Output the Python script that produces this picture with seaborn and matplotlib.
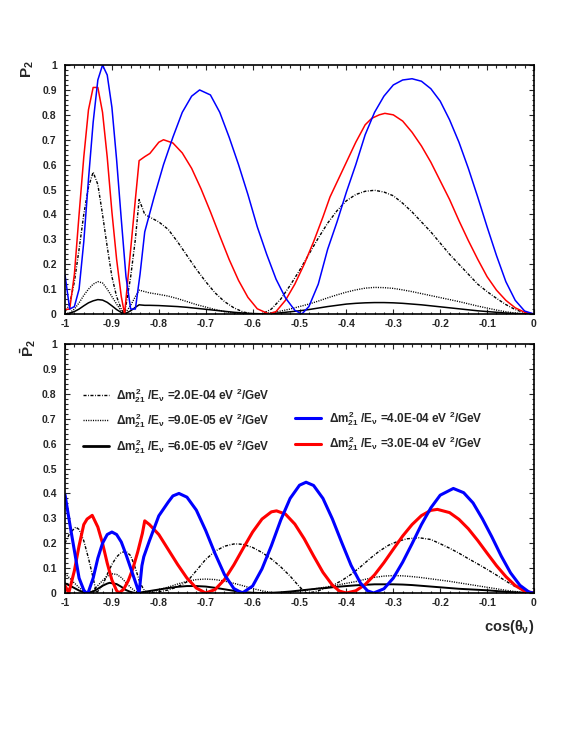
import matplotlib
matplotlib.use("Agg")
import matplotlib.pyplot as plt
import numpy as np
import pandas as pd
import seaborn as sns
from matplotlib.ticker import MultipleLocator, FuncFormatter
from matplotlib.lines import Line2D

# ---------------- data ----------------
# top panel (P2)
TOP_BLUE_X = [-1.0, -0.99, -0.98, -0.97, -0.96, -0.95, -0.94, -0.93, -0.92, -0.91, -0.90, -0.89, -0.88, -0.87, -0.86,
              -0.85, -0.84, -0.83, -0.81, -0.79, -0.77, -0.75, -0.73, -0.713, -0.69, -0.67, -0.65, -0.63, -0.61, -0.59,
              -0.57, -0.55, -0.53, -0.51, -0.495, -0.48, -0.46, -0.44, -0.42, -0.40, -0.38, -0.36, -0.34, -0.32, -0.30,
              -0.28, -0.26, -0.24, -0.22, -0.20, -0.18, -0.16, -0.14, -0.12, -0.10, -0.08, -0.06, -0.04, -0.02, 0.0]
TOP_BLUE_Y = [0.157, 0.02, 0.03, 0.10, 0.29, 0.54, 0.77, 0.94, 1.0, 0.96, 0.83, 0.62, 0.38, 0.15, 0.02,
              0.02, 0.16, 0.33, 0.47, 0.60, 0.71, 0.81, 0.875, 0.90, 0.88, 0.81, 0.71, 0.60, 0.48, 0.35,
              0.24, 0.14, 0.065, 0.015, 0.0, 0.03, 0.12, 0.26, 0.37, 0.49, 0.60, 0.72, 0.81, 0.875, 0.92,
              0.94, 0.945, 0.935, 0.905, 0.855, 0.78, 0.69, 0.585, 0.47, 0.35, 0.235, 0.13, 0.055, 0.012, 0.0]

TOP_RED_X = [-1.0, -0.99, -0.98, -0.97, -0.96, -0.95, -0.94, -0.93, -0.92, -0.91, -0.90, -0.89, -0.88, -0.873,
             -0.86, -0.85, -0.842, -0.83, -0.819, -0.80, -0.79, -0.77, -0.75, -0.73, -0.71, -0.69, -0.67, -0.65,
             -0.63, -0.61, -0.59, -0.565, -0.55, -0.53, -0.51, -0.49, -0.47, -0.45, -0.435, -0.42, -0.40, -0.38,
             -0.36, -0.346, -0.33, -0.318, -0.30, -0.28, -0.26, -0.24, -0.22, -0.20, -0.18, -0.16, -0.14, -0.12,
             -0.10, -0.08, -0.06, -0.04, -0.02, 0.0]
TOP_RED_Y = [0.018, 0.02, 0.16, 0.40, 0.63, 0.82, 0.91, 0.91, 0.81, 0.63, 0.41, 0.22, 0.07, 0.0,
             0.26, 0.46, 0.616, 0.632, 0.645, 0.69, 0.70, 0.687, 0.647, 0.585, 0.503, 0.411, 0.314, 0.219,
             0.135, 0.067, 0.021, 0.0, 0.01, 0.055, 0.12, 0.20, 0.29, 0.39, 0.47, 0.53, 0.61, 0.69,
             0.76, 0.786, 0.80, 0.806, 0.80, 0.775, 0.73, 0.675, 0.61, 0.535, 0.46, 0.375, 0.295, 0.22,
             0.15, 0.096, 0.055, 0.025, 0.007, 0.0]

TOP_BLACK_X = [-1.0, -0.99, -0.98, -0.97, -0.96, -0.95, -0.94, -0.93, -0.92, -0.91, -0.90, -0.89, -0.88, -0.873,
               -0.86, -0.85, -0.842, -0.83, -0.82, -0.80, -0.78, -0.76, -0.74, -0.72, -0.70, -0.68, -0.66, -0.64,
               -0.62, -0.60, -0.58, -0.56, -0.54, -0.52, -0.50, -0.48, -0.46, -0.44, -0.42, -0.40, -0.38, -0.36,
               -0.34, -0.32, -0.30, -0.28, -0.26, -0.24, -0.22, -0.20, -0.18, -0.16, -0.14, -0.12, -0.10, -0.08,
               -0.06, -0.04, -0.02, 0.0]
TOP_DASHDOT_Y = [0.01, 0.04, 0.13, 0.26, 0.40, 0.51, 0.57, 0.52, 0.40, 0.27, 0.15, 0.07, 0.02, 0.0,
                 0.15, 0.30, 0.46, 0.40, 0.39, 0.37, 0.34, 0.29, 0.235, 0.18, 0.13, 0.085, 0.05, 0.025,
                 0.008, 0.001, 0.0, 0.02, 0.06, 0.115, 0.175, 0.24, 0.305, 0.365, 0.415, 0.455, 0.48, 0.493,
                 0.497, 0.49, 0.475, 0.445, 0.41, 0.37, 0.33, 0.285, 0.24, 0.20, 0.16, 0.12, 0.09, 0.063,
                 0.038, 0.018, 0.005, 0.0]
TOP_DOTTED_Y = [0.0, 0.005, 0.02, 0.045, 0.075, 0.10, 0.12, 0.13, 0.125, 0.10, 0.07, 0.04, 0.012, 0.0,
                0.035, 0.07, 0.096, 0.09, 0.085, 0.079, 0.072, 0.062, 0.05, 0.038, 0.028, 0.018, 0.01, 0.005,
                0.001, 0.0, 0.001, 0.005, 0.012, 0.02, 0.03, 0.04, 0.052, 0.065, 0.077, 0.088, 0.097, 0.104,
                0.107, 0.106, 0.103, 0.097, 0.09, 0.082, 0.074, 0.066, 0.058, 0.05, 0.041, 0.032, 0.024, 0.016,
                0.009, 0.004, 0.001, 0.0]
TOP_SOLID_Y = [0.0, 0.003, 0.01, 0.02, 0.033, 0.045, 0.053, 0.058, 0.056, 0.047, 0.033, 0.018, 0.006, 0.0,
               0.013, 0.027, 0.037, 0.035, 0.035, 0.034, 0.032, 0.03, 0.027, 0.023, 0.019, 0.015, 0.011, 0.007,
               0.004, 0.002, 0.001, 0.002, 0.005, 0.009, 0.013, 0.018, 0.024, 0.03, 0.035, 0.04, 0.043, 0.045,
               0.046, 0.046, 0.045, 0.043, 0.04, 0.037, 0.033, 0.029, 0.025, 0.021, 0.017, 0.013, 0.01, 0.007,
               0.004, 0.002, 0.001, 0.0]

# bottom panel (P2 bar)
BOT_BLUE_X = [-1.0, -0.99, -0.98, -0.97, -0.96, -0.955, -0.95, -0.94, -0.93, -0.92, -0.91, -0.90, -0.89, -0.88,
              -0.87, -0.86, -0.85, -0.842, -0.836, -0.832, -0.82, -0.80, -0.78, -0.77, -0.757, -0.74, -0.72, -0.70,
              -0.68, -0.66, -0.64, -0.622, -0.60, -0.58, -0.56, -0.54, -0.52, -0.50, -0.486, -0.47, -0.45, -0.43,
              -0.41, -0.39, -0.37, -0.355, -0.342, -0.32, -0.30, -0.28, -0.26, -0.24, -0.22, -0.20, -0.172, -0.15,
              -0.13, -0.11, -0.09, -0.07, -0.05, -0.03, -0.01, 0.0]
BOT_BLUE_Y = [0.395, 0.28, 0.17, 0.06, 0.012, 0.0, 0.005, 0.06, 0.14, 0.20, 0.235, 0.245, 0.235, 0.205,
              0.155, 0.10, 0.045, 0.0, 0.11, 0.146, 0.21, 0.31, 0.365, 0.39, 0.40, 0.385, 0.333, 0.251,
              0.158, 0.074, 0.018, 0.0, 0.028, 0.097, 0.19, 0.293, 0.38, 0.433, 0.445, 0.432, 0.38, 0.298,
              0.203, 0.111, 0.04, 0.009, 0.0, 0.017, 0.06, 0.124, 0.198, 0.275, 0.342, 0.393, 0.42, 0.403,
              0.362, 0.298, 0.226, 0.149, 0.081, 0.031, 0.003, 0.0]

BOT_RED_X = [-1.0, -0.992, -0.98, -0.97, -0.96, -0.953, -0.942, -0.93, -0.92, -0.91, -0.90, -0.89, -0.885,
             -0.875, -0.865, -0.855, -0.845, -0.835, -0.83, -0.82, -0.80, -0.78, -0.76, -0.74, -0.72, -0.70,
             -0.68, -0.66, -0.64, -0.62, -0.60, -0.58, -0.56, -0.549, -0.53, -0.51, -0.49, -0.47, -0.45, -0.43,
             -0.415, -0.40, -0.38, -0.36, -0.34, -0.32, -0.30, -0.28, -0.26, -0.24, -0.22, -0.206, -0.18, -0.16,
             -0.14, -0.12, -0.10, -0.08, -0.06, -0.04, -0.02, 0.0]
BOT_RED_Y = [0.03, 0.0, 0.09, 0.19, 0.275, 0.297, 0.312, 0.265, 0.20, 0.12, 0.052, 0.01, 0.0,
             0.015, 0.05, 0.10, 0.165, 0.24, 0.29, 0.275, 0.235, 0.175, 0.115, 0.06, 0.02, 0.0,
             0.014, 0.054, 0.113, 0.18, 0.245, 0.297, 0.326, 0.33, 0.317, 0.277, 0.218, 0.149, 0.083, 0.032,
             0.008, 0.0, 0.009, 0.034, 0.073, 0.122, 0.176, 0.229, 0.275, 0.311, 0.332, 0.336, 0.323, 0.296,
             0.258, 0.211, 0.16, 0.11, 0.066, 0.03, 0.008, 0.0]

BOT_DASHDOT_X = [-1.0, -0.99, -0.977, -0.97, -0.96, -0.95, -0.94, -0.933, -0.92, -0.91, -0.90, -0.89, -0.88,
                 -0.87, -0.86, -0.85, -0.84, -0.83, -0.82, -0.80, -0.78, -0.76, -0.74, -0.72, -0.70, -0.68,
                 -0.66, -0.64, -0.63, -0.62, -0.60, -0.58, -0.56, -0.54, -0.52, -0.50, -0.485, -0.47, -0.45,
                 -0.43, -0.41, -0.39, -0.37, -0.35, -0.33, -0.31, -0.29, -0.27, -0.245, -0.22, -0.20, -0.18,
                 -0.16, -0.14, -0.12, -0.10, -0.08, -0.06, -0.04, -0.02, 0.0]
BOT_DASHDOT_Y = [0.20, 0.24, 0.265, 0.255, 0.21, 0.14, 0.06, 0.0, 0.03, 0.075, 0.115, 0.145, 0.163,
                 0.167, 0.15, 0.10, 0.04, 0.008, 0.0, 0.005, 0.012, 0.025, 0.045, 0.09, 0.135, 0.168,
                 0.188, 0.197, 0.197, 0.195, 0.183, 0.163, 0.137, 0.105, 0.068, 0.025, 0.0, 0.004, 0.015,
                 0.03, 0.05, 0.075, 0.105, 0.138, 0.168, 0.192, 0.208, 0.218, 0.222, 0.215, 0.198, 0.18,
                 0.16, 0.138, 0.117, 0.095, 0.072, 0.048, 0.026, 0.009, 0.0]

BOT_DOTTED_X = [-1.0, -0.99, -0.98, -0.97, -0.96, -0.952, -0.94, -0.93, -0.92, -0.91, -0.90, -0.89, -0.88,
                -0.87, -0.86, -0.85, -0.842, -0.82, -0.80, -0.78, -0.76, -0.74, -0.72, -0.70, -0.68, -0.66,
                -0.64, -0.62, -0.60, -0.58, -0.56, -0.55, -0.52, -0.50, -0.48, -0.45, -0.42, -0.40, -0.38,
                -0.36, -0.34, -0.32, -0.30, -0.28, -0.26, -0.24, -0.22, -0.20, -0.18, -0.16, -0.14, -0.12,
                -0.10, -0.08, -0.06, -0.04, -0.02, 0.0]
BOT_DOTTED_Y = [0.078, 0.06, 0.04, 0.022, 0.008, 0.0, 0.01, 0.03, 0.05, 0.068, 0.077, 0.075, 0.062,
                0.042, 0.022, 0.007, 0.0, 0.005, 0.013, 0.024, 0.036, 0.047, 0.054, 0.056, 0.054, 0.048,
                0.039, 0.029, 0.018, 0.009, 0.002, 0.0, 0.004, 0.008, 0.013, 0.022, 0.032, 0.039, 0.046,
                0.055, 0.063, 0.068, 0.07, 0.069, 0.066, 0.062, 0.057, 0.052, 0.047, 0.041, 0.035, 0.029,
                0.023, 0.017, 0.011, 0.006, 0.002, 0.0]

BOT_SOLID_X = [-1.0, -0.99, -0.98, -0.97, -0.96, -0.953, -0.94, -0.93, -0.92, -0.91, -0.905, -0.89, -0.88,
               -0.87, -0.86, -0.85, -0.84, -0.82, -0.80, -0.78, -0.76, -0.74, -0.72, -0.70, -0.68, -0.66,
               -0.64, -0.62, -0.60, -0.58, -0.56, -0.54, -0.52, -0.50, -0.48, -0.46, -0.44, -0.42, -0.40,
               -0.38, -0.36, -0.34, -0.32, -0.30, -0.28, -0.26, -0.24, -0.22, -0.20, -0.18, -0.16, -0.14,
               -0.12, -0.10, -0.08, -0.06, -0.04, -0.02, 0.0]
BOT_SOLID_Y = [0.039, 0.03, 0.02, 0.01, 0.003, 0.0, 0.006, 0.017, 0.029, 0.038, 0.041, 0.036, 0.025,
               0.012, 0.004, 0.0, 0.002, 0.008, 0.014, 0.02, 0.025, 0.028, 0.028, 0.026, 0.021, 0.015,
               0.009, 0.004, 0.001, 0.0, 0.001, 0.003, 0.006, 0.01, 0.014, 0.018, 0.021, 0.025, 0.028,
               0.031, 0.033, 0.035, 0.035, 0.035, 0.034, 0.032, 0.029, 0.026, 0.023, 0.02, 0.017, 0.015,
               0.013, 0.011, 0.008, 0.005, 0.003, 0.001, 0.0]

LABELS = {
    "dashdot": r"$\Delta m^2_{21}$ /E$_\nu$ =2.0E-04 eV $^2$/GeV",
    "dotted": r"$\Delta m^2_{21}$ /E$_\nu$ =9.0E-05 eV $^2$/GeV",
    "solid": r"$\Delta m^2_{21}$ /E$_\nu$ =6.0E-05 eV $^2$/GeV",
    "blue": r"$\Delta m^2_{21}$ /E$_\nu$ =4.0E-04 eV $^2$/GeV",
    "red": r"$\Delta m^2_{21}$ /E$_\nu$ =3.0E-04 eV $^2$/GeV",
}

# ---------------- style ----------------
sns.set_style("ticks")
plt.rcParams["font.family"] = ["Liberation Sans", "DejaVu Sans"]
plt.rcParams["font.weight"] = "bold"
plt.rcParams["axes.unicode_minus"] = False
plt.rcParams["mathtext.fontset"] = "custom"
plt.rcParams["mathtext.rm"] = "Liberation Sans:bold"
plt.rcParams["mathtext.it"] = "Liberation Sans:bold"
plt.rcParams["mathtext.bf"] = "Liberation Sans:bold"

DASHDOT = (0, (2.2, 1.1, 0.6, 1.1))
DOTTED = (0, (0.8, 0.9))

fig = plt.figure(figsize=(5.81, 7.52), dpi=100)
fig.patch.set_facecolor("white")
ax1 = fig.add_axes([0.1119, 0.5824, 0.8072, 0.3311])
ax2 = fig.add_axes([0.1119, 0.2114, 0.8072, 0.3311])


def draw(ax, xs, ys, color, ls, lw):
    df = pd.DataFrame({"x": xs, "y": ys})
    sns.lineplot(data=df, x="x", y="y", ax=ax, color=color, linestyle=ls, linewidth=lw,
                 estimator=None, sort=False, legend=False)


# top panel
draw(ax1, TOP_BLACK_X, TOP_DASHDOT_Y, "black", DASHDOT, 1.0)
draw(ax1, TOP_BLACK_X, TOP_DOTTED_Y, "black", DOTTED, 1.0)
draw(ax1, TOP_BLACK_X, TOP_SOLID_Y, "black", "-", 1.1)
draw(ax1, TOP_RED_X, TOP_RED_Y, "#ff0000", "-", 1.1)
draw(ax1, TOP_BLUE_X, TOP_BLUE_Y, "#0000ff", "-", 1.1)

# bottom panel
draw(ax2, BOT_DASHDOT_X, BOT_DASHDOT_Y, "black", DASHDOT, 1.0)
draw(ax2, BOT_DOTTED_X, BOT_DOTTED_Y, "black", DOTTED, 1.0)
draw(ax2, BOT_SOLID_X, BOT_SOLID_Y, "black", "-", 1.4)
draw(ax2, BOT_RED_X, BOT_RED_Y, "#ff0000", "-", 2.2)
draw(ax2, BOT_BLUE_X, BOT_BLUE_Y, "#0000ff", "-", 2.2)

fmt = FuncFormatter(lambda v, p: "%g" % (round(v, 2) + 0.0))
for ax in (ax1, ax2):
    ax.set_xlim(-1, 0)
    ax.set_ylim(0, 1)
    ax.xaxis.set_major_locator(MultipleLocator(0.1))
    ax.xaxis.set_minor_locator(MultipleLocator(0.02))
    ax.yaxis.set_major_locator(MultipleLocator(0.1))
    ax.yaxis.set_minor_locator(MultipleLocator(0.02))
    ax.xaxis.set_major_formatter(fmt)
    ax.yaxis.set_major_formatter(fmt)
    ax.tick_params(which="both", direction="in", top=True, right=True, width=0.8, labelsize=7.5)
    ax.tick_params(which="major", length=3.5)
    ax.tick_params(which="minor", length=1.8)
    ax.tick_params(axis="y", pad=6.0)
    ax.tick_params(axis="x", pad=3.3)
    ax.set_xlabel("")
    ax.set_ylabel("")
    for s in ax.spines.values():
        s.set_linewidth(1.2)
        s.set_color("black")

ax1.text(-0.079, 1.02, r"P$_2$", transform=ax1.transAxes, rotation=90, ha="center", va="top",
         fontsize=11, fontweight="bold")
ax2.text(-0.079, 1.02, r"$\bar{P}_2$", transform=ax2.transAxes, rotation=90, ha="center", va="top",
         fontsize=11, fontweight="bold")
ax2.text(1.0, -0.137, r"cos($\theta_\nu$)", transform=ax2.transAxes, ha="right", va="center",
         fontsize=10.5, fontweight="bold")

handles = [
    Line2D([], [], color="black", lw=1.0, linestyle=DASHDOT),
    Line2D([], [], color="black", lw=1.0, linestyle=DOTTED),
    Line2D([], [], color="black", lw=2.0, linestyle="-"),
    Line2D([], [], color="none"),
    Line2D([], [], color="#0000ff", lw=2.2),
    Line2D([], [], color="#ff0000", lw=2.2),
]
labels = [LABELS["dashdot"], LABELS["dotted"], LABELS["solid"], "", LABELS["blue"], LABELS["red"]]
ax2.legend(handles=handles, labels=labels, ncol=2, loc="upper left", bbox_to_anchor=(0.038, 0.832),
           frameon=False, fontsize=8.5, handlelength=2.2, handletextpad=0.65, columnspacing=2.1,
           labelspacing=0.58, borderpad=0, borderaxespad=0)

fig.savefig("out.png", dpi=100, facecolor="white")
